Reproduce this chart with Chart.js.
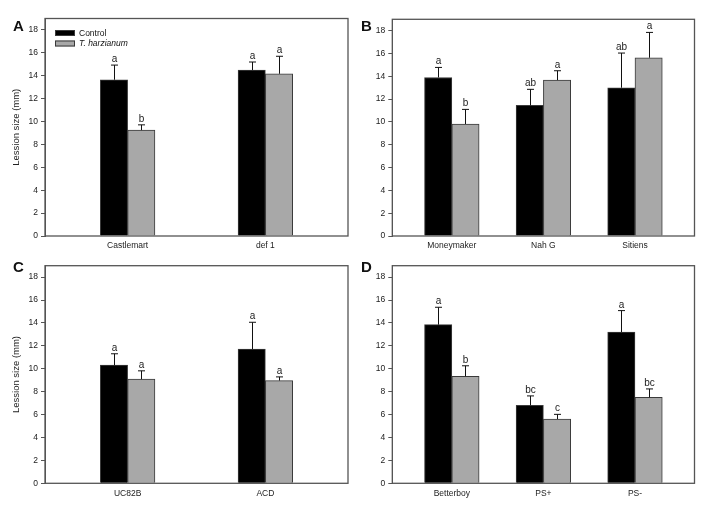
<!DOCTYPE html>
<html>
<head>
<meta charset="utf-8">
<script src="https://cdn.jsdelivr.net/npm/chart.js@4.4.1/dist/chart.umd.min.js"></script>
<style>
  html, body { margin: 0; padding: 0; background: #fff; }
  #wrap { position: relative; width: 707px; height: 512px; overflow: hidden; background: #fff; }
  canvas { position: absolute; }
  .plabel { position: absolute; font-family: "Liberation Sans", Arial, sans-serif; font-weight: bold; font-size: 15px; color: #111; }
</style>
</head>
<body>
<div id="wrap">
  <canvas id="cA" width="352" height="256" style="left:0px;top:0px"></canvas>
  <canvas id="cB" width="355" height="256" style="left:352px;top:0px"></canvas>
  <canvas id="cC" width="352" height="262" style="left:0px;top:250px"></canvas>
  <canvas id="cD" width="355" height="262" style="left:352px;top:250px"></canvas>
  <div class="plabel" style="left:13px;top:17px">A</div>
  <div class="plabel" style="left:361px;top:17px">B</div>
  <div class="plabel" style="left:13px;top:258px">C</div>
  <div class="plabel" style="left:361px;top:258px">D</div>
</div>
<script>
// ---- Data ----
const seriesNames = ['Control', 'T. harzianum'];
const yTicks = [0, 2, 4, 6, 8, 10, 12, 14, 16, 18];
const yTitle = 'Lession size (mm)';

const catsA = ['Castlemart', 'def 1'];
const ctrlA = [13.65, 14.5];
const ctrlErrA = [1.28, 0.7];
const trtA = [9.25, 14.17];
const trtErrA = [0.46, 1.53];
const ctrlLetA = ['a', 'a'];
const trtLetA = ['b', 'a'];

const catsB = ['Moneymaker', 'Nah G', 'Sitiens'];
const ctrlB = [13.9, 11.45, 13.0];
const ctrlErrB = [0.88, 1.41, 3.04];
const trtB = [9.82, 13.67, 15.63];
const trtErrB = [1.28, 0.82, 2.22];
const ctrlLetB = ['a', 'ab', 'ab'];
const trtLetB = ['b', 'a', 'a'];

const catsC = ['UC82B', 'ACD'];
const ctrlC = [10.32, 11.72];
const ctrlErrC = [0.99, 2.34];
const trtC = [9.09, 8.97];
const trtErrC = [0.73, 0.32];
const ctrlLetC = ['a', 'a'];
const trtLetC = ['a', 'a'];

const catsD = ['Betterboy', 'PS+', 'PS-'];
const ctrlD = [13.85, 6.81, 13.21];
const ctrlErrD = [1.52, 0.82, 1.87];
const trtD = [9.35, 5.61, 7.51];
const trtErrD = [0.91, 0.41, 0.73];
const ctrlLetD = ['a', 'bc', 'a'];
const trtLetD = ['b', 'c', 'bc'];

// ---- Styling ----
const FONT = '"Liberation Sans", Arial, sans-serif';
Chart.defaults.font.family = FONT;
Chart.defaults.color = '#222';
const CTRL_COLOR = '#000000';
const TRT_COLOR = '#a8a8a8';
const EDGE = '#3a3a3a';

const errPlugin = {
  id: 'errbars',
  afterDatasetsDraw(chart) {
    const ctx = chart.ctx;
    const ys = chart.scales.y;
    ctx.save();
    chart.data.datasets.forEach((ds, di) => {
      const meta = chart.getDatasetMeta(di);
      meta.data.forEach((el, i) => {
        const v = ds.data[i].y;
        const top = ys.getPixelForValue(v + ds.errors[i]);
        const x = Math.round(el.x) + 0.5;
        ctx.strokeStyle = '#111';
        ctx.lineWidth = 1;
        ctx.beginPath();
        ctx.moveTo(x, el.y);
        ctx.lineTo(x, top);
        ctx.moveTo(x - 3.5, top);
        ctx.lineTo(x + 3.5, top);
        ctx.stroke();
        ctx.fillStyle = '#222';
        ctx.font = '10px ' + FONT;
        ctx.textAlign = 'center';
        ctx.textBaseline = 'alphabetic';
        ctx.fillText(ds.letters[i], x, top - 3);
      });
    });
    ctx.restore();
  },
  afterDraw(chart) {
    const a = chart.chartArea;
    const ctx = chart.ctx;
    ctx.save();
    ctx.strokeStyle = '#555';
    ctx.lineWidth = 1.3;
    ctx.strokeRect(a.left, a.top, a.right - a.left, a.bottom - a.top);
    ctx.restore();
    if (chart.options.plugins.boxLegend && chart.options.plugins.boxLegend.show) {
      ctx.save();
      const x0 = a.left + 10, y0 = a.top + 11.5;
      chart.data.datasets.forEach((ds, di) => {
        const y = y0 + di * 10.5;
        ctx.fillStyle = ds.backgroundColor;
        ctx.fillRect(x0, y, 20, 6);
        ctx.strokeStyle = EDGE;
        ctx.lineWidth = 1;
        ctx.strokeRect(x0 + 0.5, y + 0.5, 19, 5);
        ctx.fillStyle = '#111';
        ctx.font = (di === 1 ? 'italic ' : '') + '8.5px ' + FONT;
        ctx.textAlign = 'left';
        ctx.textBaseline = 'middle';
        ctx.fillText(ds.label, x0 + 24, y + 3.5);
      });
      ctx.restore();
    }
  }
};

function makePanel(id, cats, ctrl, ctrlErr, ctrlLet, trt, trtErr, trtLet, opts) {
  const toPts = arr => arr.map((v, i) => ({ x: i, y: v }));
  new Chart(document.getElementById(id), {
    type: 'bar',
    data: {
      datasets: [
        { label: seriesNames[0], data: toPts(ctrl), errors: ctrlErr, letters: ctrlLet,
          backgroundColor: CTRL_COLOR, borderColor: EDGE, borderWidth: 1, barThickness: 27.3 },
        { label: seriesNames[1], data: toPts(trt), errors: trtErr, letters: trtLet,
          backgroundColor: TRT_COLOR, borderColor: EDGE, borderWidth: 1, barThickness: 27.3 }
      ]
    },
    options: {
      responsive: false,
      animation: false,
      events: [],
      layout: { padding: { top: opts.padTop, right: opts.padRight, left: 0, bottom: 0 } },
      plugins: {
        legend: { display: false },
        tooltip: { enabled: false },
        boxLegend: { show: !!opts.legend }
      },
      scales: {
        x: {
          type: 'linear',
          offset: false,
          min: -opts.side,
          max: cats.length - 1 + opts.side,
          grid: { display: false, drawTicks: false, tickLength: 0 },
          border: { display: false },
          afterBuildTicks: s => { s.ticks = cats.map((c, i) => ({ value: i })); },
          afterFit: s => { s.height = opts.xH; },
          ticks: {
            autoSkip: false,
            maxRotation: 0,
            padding: 5,
            font: { size: 8.5 },
            color: '#222',
            callback: v => cats[v]
          }
        },
        y: {
          min: 0,
          max: 19,
          grid: { drawOnChartArea: false, drawTicks: true, tickLength: 4, color: '#555' },
          border: { display: true, color: '#555', width: 1 },
          afterBuildTicks: s => { s.ticks = yTicks.map(v => ({ value: v })); },
          afterFit: s => { s.width = opts.yW; },
          ticks: { padding: 3, font: { size: 8.5 }, color: '#222' },
          title: {
            display: !!opts.title,
            text: yTitle,
            font: { size: 9.5 },
            color: '#222',
            padding: { top: 11, bottom: 0 }
          }
        }
      }
    },
    plugins: [errPlugin]
  });
}

makePanel('cA', catsA, ctrlA, ctrlErrA, ctrlLetA, trtA, trtErrA, trtLetA,
  { padTop: 18.5, padRight: 4, yW: 45, xH: 20, side: 0.6, title: true, legend: true });
makePanel('cB', catsB, ctrlB, ctrlErrB, ctrlLetB, trtB, trtErrB, trtLetB,
  { padTop: 19.3, padRight: 12.5, yW: 40.3, xH: 20, side: 0.65 });
makePanel('cC', catsC, ctrlC, ctrlErrC, ctrlLetC, trtC, trtErrC, trtLetC,
  { padTop: 15.7, padRight: 4, yW: 45, xH: 28.7, side: 0.6, title: true });
makePanel('cD', catsD, ctrlD, ctrlErrD, ctrlLetD, trtD, trtErrD, trtLetD,
  { padTop: 15.7, padRight: 12.5, yW: 40.3, xH: 28.7, side: 0.65 });
</script>
</body>
</html>
